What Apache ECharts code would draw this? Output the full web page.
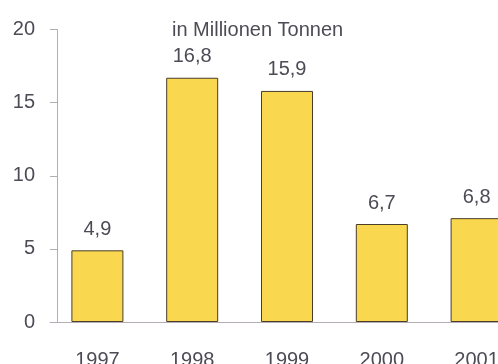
<!DOCTYPE html>
<html>
<head>
<meta charset="utf-8">
<script src="https://cdn.jsdelivr.net/npm/echarts@6/dist/echarts.min.js"></script>
<style>
  html, body { margin: 0; padding: 0; background: #fff; }
  #app { width: 498px; height: 364px; }
</style>
</head>
<body>
<div id="app"></div>
<script>
var years = ['1997', '1998', '1999', '2000', '2001'];
// bar heights as drawn in the picture
var values = [4.9, 16.7, 15.8, 6.7, 7.1];
// printed value labels
var valueLabels = ['4,9', '16,8', '15,9', '6,7', '6,8'];
var yTicks = [0, 5, 10, 15, 20];

window.onload = function() {
    var myChart = echarts.init(document.getElementById('app'));
    var textColor = '#4d4b55';
    var axisColor = '#b4acb6';
    var font = '"Liberation Sans", Arial, sans-serif';

    var option = {
        animation: false,
        title: {
            text: 'in Millionen Tonnen',
            left: 167,
            top: 15,
            textStyle: {
                fontFamily: font,
                fontSize: 20,
                fontWeight: 'normal',
                color: textColor
            }
        },
        grid: {
            left: 50,
            top: 29.5,
            bottom: 42,
            right: -26,
            outerBoundsMode: 'none',
            containLabel: false
        },
        xAxis: {
            type: 'category',
            data: years,
            axisLine: { lineStyle: { color: axisColor, width: 1 } },
            axisTick: { show: false },
            axisLabel: {
                margin: 28,
                fontFamily: font,
                fontSize: 20,
                color: textColor
            }
        },
        yAxis: {
            type: 'value',
            min: yTicks[0],
            max: yTicks[yTicks.length - 1],
            interval: 5,
            offset: -7,
            splitLine: { show: false },
            axisLine: { show: true, lineStyle: { color: axisColor, width: 1 } },
            axisTick: { show: true, length: 7, lineStyle: { color: axisColor } },
            axisLabel: {
                margin: 22,
                fontFamily: font,
                fontSize: 20,
                color: textColor
            }
        },
        series: [{
            type: 'bar',
            data: values,
            barWidth: 52,
            itemStyle: {
                color: '#f9d84f',
                borderColor: '#4a3d2a',
                borderWidth: 1
            },
            label: {
                show: true,
                position: 'top',
                distance: 11,
                fontFamily: font,
                fontSize: 20,
                color: textColor,
                formatter: function(p) {
                    return valueLabels[p.dataIndex];
                }
            }
        }]
    };
    myChart.setOption(option);
};
</script>
</body>
</html>
